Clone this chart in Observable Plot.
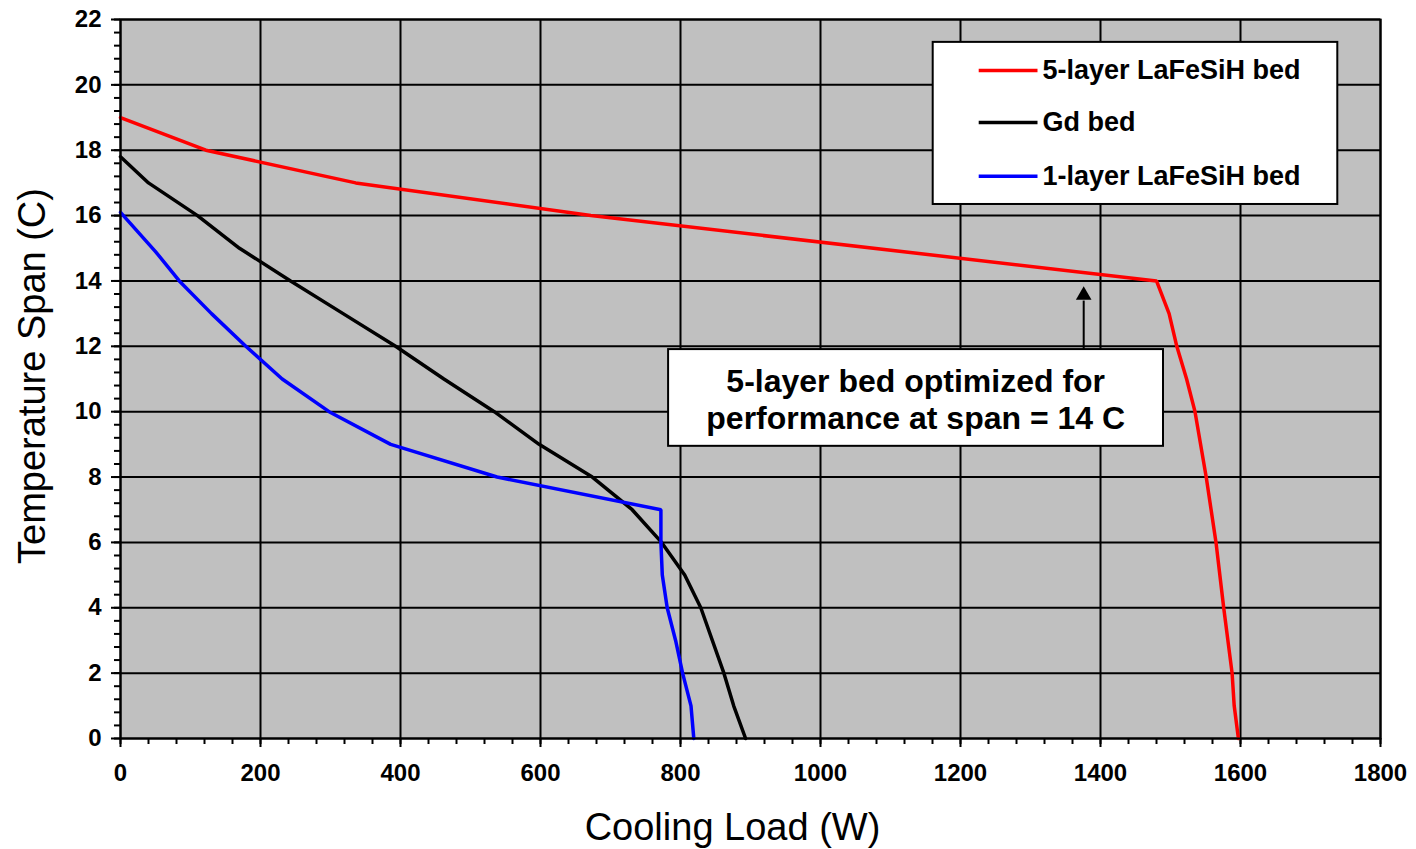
<!DOCTYPE html>
<html><head><meta charset="utf-8">
<script src="https://cdn.jsdelivr.net/npm/d3@7"></script>
<script src="https://cdn.jsdelivr.net/npm/@observablehq/plot@0.6"></script>
<style>body{margin:0;background:#fff}</style>
</head><body><div id="chart"></div>
<script>
// ---- data ----
const seriesNames = ["5-layer LaFeSiH bed", "Gd bed", "1-layer LaFeSiH bed"];
const seriesColors = ["#ff0000", "#000000", "#0000ff"];

const load5 = [0, 122, 336, 672, 1480, 1498, 1509, 1523, 1535, 1551, 1565, 1576, 1588, 1591, 1597];
const span5 = [19, 18, 17, 16, 14, 13, 12, 11, 10, 8, 6, 4, 2, 1, 0];

const loadGd = [0, 40, 110, 170, 243, 318, 393, 462, 534, 598, 674, 731, 773, 806, 829, 862, 876, 893];
const spanGd = [17.8, 17, 16, 15, 14, 13, 12, 11, 10, 9, 8, 7, 6, 5, 4, 2, 1, 0];

const load1 = [0, 50, 84, 130, 179, 231, 298, 386, 538, 772, 772, 774, 781, 793, 803, 815, 819];
const span1 = [16.1, 14.9, 14, 13, 12, 11, 10, 9, 8, 7, 6, 5, 4, 3, 2, 1, 0];

const xTicks = [0, 200, 400, 600, 800, 1000, 1200, 1400, 1600, 1800];
const yTicks = [0, 2, 4, 6, 8, 10, 12, 14, 16, 18, 20, 22];

const annotationText = "5-layer bed optimized for\nperformance at span = 14 C";

// ---- build table ----
const rows = [];
[[load5, span5], [loadGd, spanGd], [load1, span1]].forEach(([xs, ys], i) => {
  xs.forEach((x, j) => rows.push({series: seriesNames[i], load: x, span: ys[j]}));
});

// annotation / legend placement (in data units)
const annot = {x1: 783, x2: 1490, y1: 8.94, y2: 11.9, tx: 1136, ty: 10.39, ax: 1376, ayTail: 11.9, ayHead: 13.4, ayTip: 13.56};
const legendBox = {x1: 1161, x2: 1739, y1: 16.34, y2: 21.3};
const legendRowY = [20.44, 18.85, 17.2];
const legendLine = {x1: 1226, x2: 1310, tx: 1317};
const legendRows = seriesNames.map((s, i) => ({series: s, y: legendRowY[i]}));

const font = "Liberation Sans, Arial, Helvetica, sans-serif";

const chart = Plot.plot({
  width: 1416,
  height: 849,
  marginLeft: 120,
  marginRight: 36,
  marginTop: 19,
  marginBottom: 111,
  style: {fontFamily: font, background: "white", color: "black"},
  x: {domain: [0, 1800]},
  y: {domain: [0, 22]},
  color: {domain: seriesNames, range: seriesColors},
  marks: [
    Plot.frame({fill: "#c0c0c0", stroke: null}),
    Plot.gridX(xTicks, {stroke: "black", strokeOpacity: 1, strokeWidth: 2}),
    Plot.gridY(yTicks, {stroke: "black", strokeOpacity: 1, strokeWidth: 2}),
    // minor ticks
    Plot.axisX(d3.range(0, 1801, 40), {tickSize: 6, tickFormat: () => "", strokeWidth: 2, label: null}),
    Plot.axisY(d3.range(0, 22.001, 0.4).map(d => +d.toFixed(1)), {tickSize: 6, tickFormat: () => "", strokeWidth: 2, label: null}),
    // major ticks + labels
    Plot.axisX(xTicks, {tickSize: 9, tickPadding: 16, tickFormat: d => String(d), fontSize: 24, fontWeight: "bold", strokeWidth: 2, label: null}),
    Plot.axisY(yTicks, {tickSize: 9, tickPadding: 10, tickFormat: d => String(d), fontSize: 24, fontWeight: "bold", strokeWidth: 2, label: null}),
    // series
    Plot.line(rows, {x: "load", y: "span", z: "series", stroke: "series", strokeWidth: 3.5, strokeLinejoin: "miter"}),
    // annotation
    Plot.link([annot], {x1: "ax", x2: "ax", y1: "ayTail", y2: "ayHead", stroke: "black", strokeWidth: 2}),
    Plot.dot([annot], {x: "ax", y: "ayTip", symbol: "triangle", r: 5.8, fill: "black", stroke: null}),
    Plot.rect([annot], {x1: "x1", x2: "x2", y1: "y1", y2: "y2", fill: "white", stroke: "black", strokeWidth: 2}),
    Plot.text([annot], {x: "tx", y: "ty", text: () => annotationText, fontSize: 32, fontWeight: "bold", lineHeight: 1.15, fill: "black", textAnchor: "middle"}),
    // legend
    Plot.rect([legendBox], {x1: "x1", x2: "x2", y1: "y1", y2: "y2", fill: "white", stroke: "black", strokeWidth: 2}),
    Plot.link(legendRows, {x1: () => legendLine.x1, x2: () => legendLine.x2, y1: "y", y2: "y", stroke: "series", strokeWidth: 3.5}),
    Plot.text(legendRows, {x: () => legendLine.tx, y: "y", text: "series", fontSize: 27, fontWeight: "bold", textAnchor: "start", fill: "black"}),
    // axis titles
    Plot.text(["Cooling Load (W)"], {frameAnchor: "bottom", dy: 89, dx: -18, fontSize: 38, fill: "black", textAnchor: "middle", lineAnchor: "middle"}),
    Plot.text(["Temperature Span (C)"], {frameAnchor: "left", dx: -88, dy: -3, rotate: -90, fontSize: 38, fill: "black", textAnchor: "middle", lineAnchor: "middle"}),
    Plot.frame({stroke: "black", strokeWidth: 2})
  ]
});
document.getElementById("chart").appendChild(chart);
</script>
</body></html>
